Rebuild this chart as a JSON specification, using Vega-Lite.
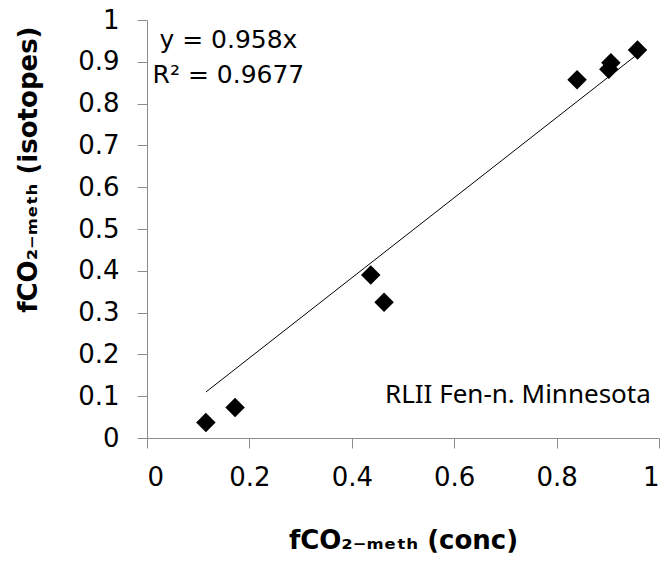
{
  "$schema": "https://vega.github.io/schema/vega-lite/v6.json",
  "width": 512,
  "height": 418,
  "autosize": "none",
  "padding": {"left": 147, "top": 20, "right": 7, "bottom": 124},
  "background": "white",
  "config": {
    "view": {"stroke": null},
    "axis": {"grid": false, "domainColor": "#8c8c8c", "tickColor": "#8c8c8c", "domainWidth": 1, "tickWidth": 1, "tickSize": 10,
             "labelFont": "DejaVu Sans", "labelFontSize": 26, "labelColor": "black",
             "titleFont": "DejaVu Sans", "titleFontSize": 26, "titleFontWeight": "bold", "titleColor": "black"}
  },
  "datasets": {
    "points": [
      {"conc": 0.115, "iso": 0.037},
      {"conc": 0.172, "iso": 0.073},
      {"conc": 0.437, "iso": 0.390},
      {"conc": 0.463, "iso": 0.325},
      {"conc": 0.840, "iso": 0.857},
      {"conc": 0.902, "iso": 0.882},
      {"conc": 0.906, "iso": 0.898},
      {"conc": 0.958, "iso": 0.928}
    ],
    "trend": [
      {"conc": 0.115, "iso": 0.110},
      {"conc": 0.958, "iso": 0.918}
    ],
    "eq": [
      {"conc": 0.159, "iso": 0.933, "label": "y = 0.958x"},
      {"conc": 0.159, "iso": 0.849, "label": "R² = 0.9677"}
    ],
    "site": [
      {"conc": 0.984, "iso": 0.084, "label": "RLII Fen-n. Minnesota"}
    ]
  },
  "layer": [
    {
      "data": {"name": "trend"},
      "mark": {"type": "line", "color": "black", "strokeWidth": 1},
      "encoding": {
        "x": {"field": "conc", "type": "quantitative", "scale": {"domain": [0, 1], "nice": false},
              "axis": {"values": [0, 0.2, 0.4, 0.6, 0.8, 1], "format": "~g", "labelPadding": 16, "titlePadding": 37,
                       "title": "fCO₂₋ₘₑₜₕ (conc)"}},
        "y": {"field": "iso", "type": "quantitative", "scale": {"domain": [0, 1], "nice": false},
              "axis": {"values": [0, 0.1, 0.2, 0.3, 0.4, 0.5, 0.6, 0.7, 0.8, 0.9, 1], "format": "~g", "labelPadding": 18, "titlePadding": 36,
                       "titleAnchor": "end", "titleY": 6,
                       "title": "fCO₂₋ₘₑₜₕ (isotopes)"}}
      }
    },
    {
      "data": {"name": "points"},
      "mark": {"type": "point", "shape": "diamond", "filled": true, "color": "black", "size": 380, "opacity": 1},
      "encoding": {
        "x": {"field": "conc", "type": "quantitative"},
        "y": {"field": "iso", "type": "quantitative"}
      }
    },
    {
      "data": {"name": "eq"},
      "mark": {"type": "text", "font": "DejaVu Sans", "fontSize": 25, "align": "center", "baseline": "alphabetic", "color": "black"},
      "encoding": {
        "x": {"field": "conc", "type": "quantitative"},
        "y": {"field": "iso", "type": "quantitative"},
        "text": {"field": "label"}
      }
    },
    {
      "data": {"name": "site"},
      "mark": {"type": "text", "font": "Noto Sans", "fontSize": 26, "align": "right", "baseline": "alphabetic", "color": "black"},
      "encoding": {
        "x": {"field": "conc", "type": "quantitative"},
        "y": {"field": "iso", "type": "quantitative"},
        "text": {"field": "label"}
      }
    }
  ]
}
